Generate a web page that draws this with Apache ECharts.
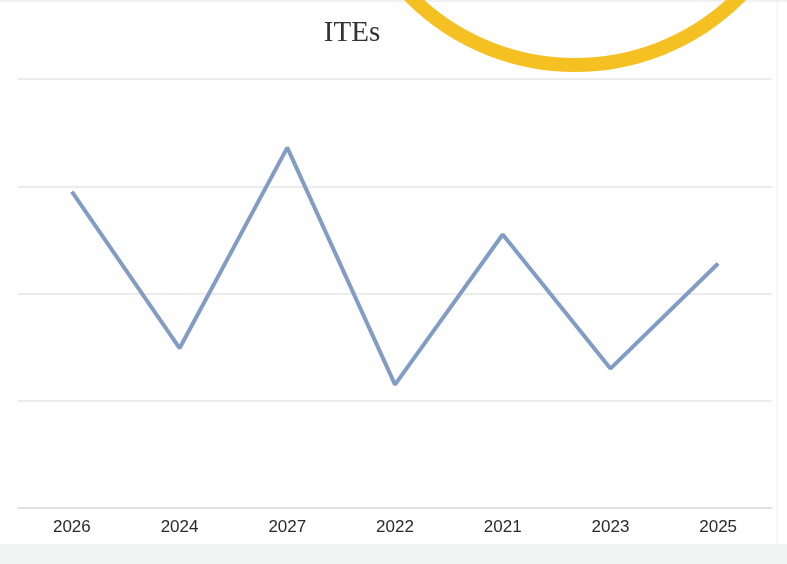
<!DOCTYPE html>
<html>
<head>
<meta charset="utf-8">
<script src="https://cdn.jsdelivr.net/npm/echarts@6/dist/echarts.min.js"></script>
<style>html,body{margin:0;padding:0;background:#fff;}#c{width:787px;height:564px;}</style>
</head>
<body>
<div id="c"></div>
<script>
const titleText = 'ITEs';
const categories = ['2026', '2024', '2027', '2022', '2021', '2023', '2025'];
const values = [2.95, 1.49, 3.36, 1.15, 2.55, 1.30, 2.28];
const yTicks = { min: 0, max: 4, interval: 1 };

const chart = echarts.init(document.getElementById('c'), null, { renderer: 'canvas' });
chart.setOption({
  backgroundColor: '#ffffff',
  animation: false,
  title: {
    text: titleText,
    left: 347, top: 14, textAlign: 'center',
    textStyle: { fontFamily: 'Liberation Serif', fontSize: 29, fontWeight: 'normal', color: '#333333' }
  },
  grid: { left: 18, right: 15, top: 79, bottom: 56, containLabel: false },
  xAxis: {
    type: 'category',
    data: categories,
    boundaryGap: true,
    axisLine: { show: true, lineStyle: { color: '#dcdcdc', width: 1.5 } },
    axisTick: { show: false },
    axisLabel: { margin: 11, fontFamily: 'Liberation Sans', fontSize: 17, color: '#2a2a2a' }
  },
  yAxis: {
    type: 'value',
    min: yTicks.min, max: yTicks.max, interval: yTicks.interval,
    axisLine: { show: false },
    axisTick: { show: false },
    axisLabel: { show: false },
    splitLine: { show: true, lineStyle: { color: '#e6e6e6', width: 1.5 } }
  },
  series: [{
    type: 'line',
    data: values,
    symbol: 'none',
    lineStyle: { color: '#819dc6', width: 4 },
    z: 3
  }],
  graphic: [
    { type: 'rect', shape: { x: 0, y: 544, width: 787, height: 20 }, style: { fill: '#f3f5f5' }, z: 0 },
    { type: 'line', shape: { x1: 777, y1: 0, x2: 777, y2: 544 }, style: { stroke: '#f0f0f0', lineWidth: 1 }, z: 0 },
    { type: 'line', shape: { x1: 0, y1: 1, x2: 787, y2: 1 }, style: { stroke: '#ececec', lineWidth: 1.5 }, z: 0 },
    { type: 'circle', shape: { cx: 575, cy: -167, r: 232 }, style: { fill: 'none', stroke: '#f5c122', lineWidth: 14 }, z: 10 }
  ]
});
</script>
</body>
</html>
